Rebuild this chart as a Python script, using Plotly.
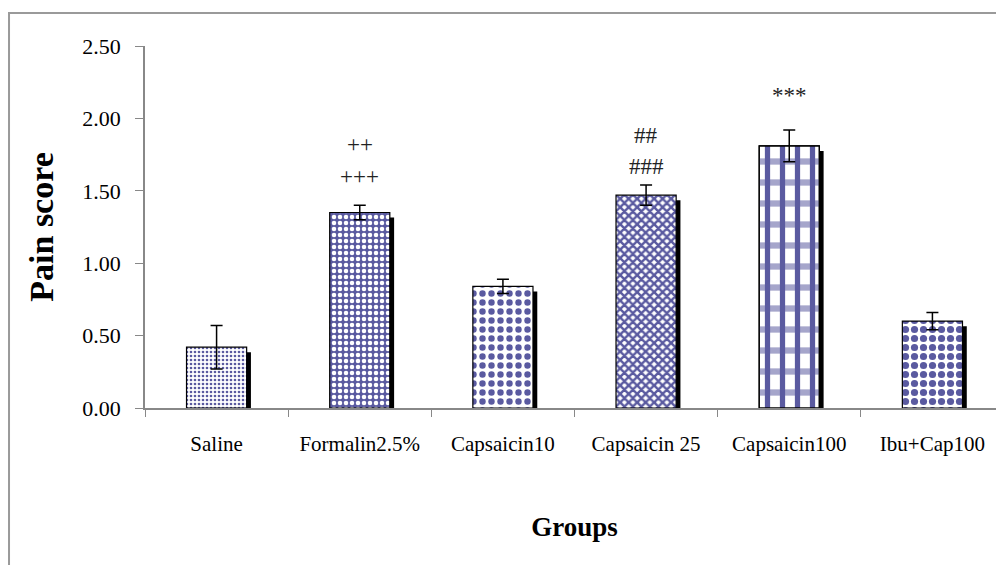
import plotly.graph_objects as go

groups = ["Saline", "Formalin2.5%", "Capsaicin10", "Capsaicin 25", "Capsaicin100", "Ibu+Cap100"]
pain_score = [0.42, 1.35, 0.84, 1.47, 1.81, 0.60]
sem = [0.15, 0.05, 0.05, 0.07, 0.11, 0.06]
y_ticks = [0.0, 0.5, 1.0, 1.5, 2.0, 2.5]

sig_groups = ["Formalin2.5%", "Formalin2.5%", "Capsaicin 25", "Capsaicin 25", "Capsaicin100"]
sig_text = ["+++", "++", "###", "##", "***"]
sig_y = [1.60, 1.82, 1.67, 1.88, 2.16]

BLUE = "#5a5aa0"
pattern_shapes = [".", ".", ".", "x", "|", "."]
pattern_fg = [BLUE, "white", BLUE, BLUE, BLUE, BLUE]
pattern_bg = ["white", BLUE, "white", "white", "white", "white"]
pattern_sizes = [4, 6, 9, 6, 15, 9]
pattern_solid = [0.35, 0.45, 0.4, 0.65, 0.35, 0.5]

SERIF = "Liberation Serif, Times New Roman, serif"
BW = 0.42
SHIFT = 0.03
DROP = 0.035

fig = go.Figure()

# drop shadows
fig.add_trace(go.Bar(
    x=groups, y=[v - DROP for v in pain_score], width=BW, offset=-BW / 2 + SHIFT,
    marker=dict(color="black", line=dict(width=0)), hoverinfo="skip", showlegend=False))

# patterned bars
for i, g in enumerate(groups):
    fig.add_trace(go.Bar(
        x=[g], y=[pain_score[i]], width=BW, offset=-BW / 2,
        marker=dict(color=pattern_bg[i], line=dict(color="black", width=1.2),
                    pattern=dict(shape=pattern_shapes[i], fgcolor=pattern_fg[i],
                                 bgcolor=pattern_bg[i], size=pattern_sizes[i],
                                 solidity=pattern_solid[i], fillmode="replace")),
        showlegend=False, hoverinfo="skip"))

# plaid overlay (horizontal bands) for Capsaicin100
plaid_idx = groups.index("Capsaicin100")
fig.add_trace(go.Bar(
    x=[groups[plaid_idx]], y=[pain_score[plaid_idx]], width=BW, offset=-BW / 2,
    marker=dict(color="rgba(0,0,0,0)", line=dict(color="black", width=1.2),
                pattern=dict(shape="-", fgcolor="rgba(90,90,160,0.55)", bgcolor="rgba(0,0,0,0)",
                             size=21, solidity=0.3, fillmode="replace")),
    showlegend=False, hoverinfo="skip"))

# error bars
fig.add_trace(go.Bar(
    x=groups, y=pain_score, width=BW, offset=-BW / 2,
    marker=dict(color="rgba(0,0,0,0)", line=dict(width=0)),
    error_y=dict(type="data", array=sem, color="black", thickness=1.5, width=6),
    showlegend=False))

for g, t, y in zip(sig_groups, sig_text, sig_y):
    fig.add_annotation(x=g, y=y, text=t, showarrow=False,
                       font=dict(family=SERIF, size=23, color="#222222"))

fig.add_shape(type="rect", xref="paper", yref="paper", x0=-0.1583, y0=-0.6, x1=1.2, y1=1.0912,
              line=dict(color="#9a9a9a", width=2), layer="below")

fig.update_layout(
    width=996, height=557, barmode="overlay",
    margin=dict(l=137, r=0, t=38, b=157),
    paper_bgcolor="white", plot_bgcolor="white",
    font=dict(family=SERIF, size=20, color="black"),
    xaxis=dict(showline=True, linecolor="#888888", linewidth=1.5, ticks="outside",
               tickson="boundaries", ticklen=7, tickcolor="#888888", showgrid=False,
               ticklabelstandoff=16, tickfont=dict(family=SERIF, size=21),
               title=dict(text="<b>Groups</b>", font=dict(family=SERIF, size=27), standoff=62)),
    yaxis=dict(range=[0, 2.5], tickvals=y_ticks, tickformat=".2f", showline=True,
               linecolor="#888888", linewidth=1.5, ticks="outside", ticklen=8,
               tickcolor="#888888", showgrid=False, zeroline=False,
               ticklabelstandoff=10, tickfont=dict(family=SERIF, size=22),
               title=dict(text="<b>Pain score</b>", font=dict(family=SERIF, size=34), standoff=18)),
)

fig.write_html("out.html")
